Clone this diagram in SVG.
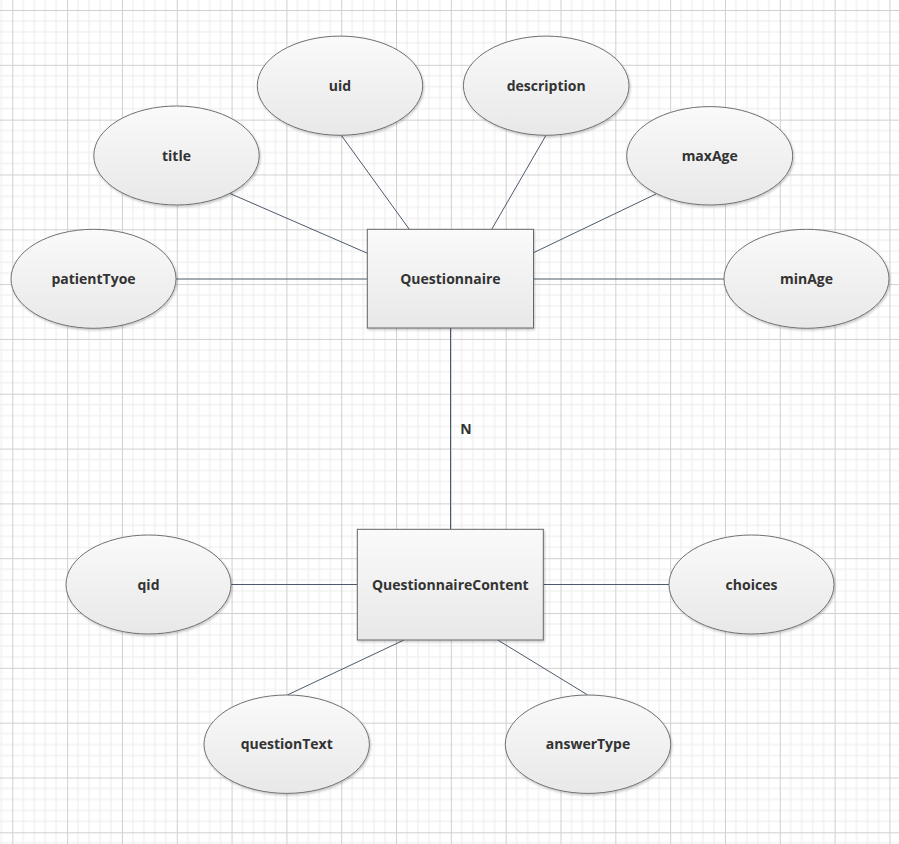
<svg xmlns="http://www.w3.org/2000/svg" width="899" height="844" viewBox="0 0 899 844">
<defs>
<pattern id="grid" patternUnits="userSpaceOnUse" x="12.3" y="10" width="54.82" height="54.82">
<g stroke="#ececec" stroke-width="1">
<line x1="10.964" y1="0" x2="10.964" y2="54.82"/>
<line x1="21.928" y1="0" x2="21.928" y2="54.82"/>
<line x1="32.892" y1="0" x2="32.892" y2="54.82"/>
<line x1="43.856" y1="0" x2="43.856" y2="54.82"/>
<line x1="0" y1="10.964" x2="54.82" y2="10.964"/>
<line x1="0" y1="21.928" x2="54.82" y2="21.928"/>
<line x1="0" y1="32.892" x2="54.82" y2="32.892"/>
<line x1="0" y1="43.856" x2="54.82" y2="43.856"/>
</g>
<g stroke="#d0d0d0" stroke-width="1">
<line x1="0.5" y1="0" x2="0.5" y2="54.82"/>
<line x1="0" y1="0.5" x2="54.82" y2="0.5"/>
</g>
</pattern>
<linearGradient id="fill" x1="0" y1="0" x2="0" y2="1">
<stop offset="0" stop-color="#fafafa"/>
<stop offset="1" stop-color="#e8e8e8"/>
</linearGradient>
<filter id="shadow" x="-10%" y="-10%" width="125%" height="130%">
<feDropShadow dx="1" dy="1.5" stdDeviation="1.2" flood-color="#000" flood-opacity="0.22"/>
</filter>
</defs>
<style>
.ent { fill: url(#fill); stroke: #666; stroke-width: 1; filter: url(#shadow); }
.attr { fill: url(#fill); stroke: #707070; stroke-width: 1; filter: url(#shadow); }
.lbl { font-family: "Open Sans", "Liberation Sans", sans-serif; font-weight: 700; font-size: 14px; fill: #333; text-anchor: middle; }
.conn { stroke: #4c5a6b; stroke-width: 1; fill: none; }
</style>
<rect width="899" height="844" fill="#ffffff"/>
<rect width="899" height="844" fill="url(#grid)"/>

<g id="connectors">
<line class="conn" x1="176" y1="279" x2="367" y2="279"/>
<line class="conn" x1="230" y1="193.5" x2="367.5" y2="253.3"/>
<line class="conn" x1="341.3" y1="135.3" x2="409.3" y2="229.3"/>
<line class="conn" x1="546" y1="135.3" x2="491.7" y2="229.3"/>
<line class="conn" x1="656" y1="194" x2="533.5" y2="252.7"/>
<line class="conn" x1="533.5" y1="279" x2="724" y2="279"/>
<line class="conn" x1="450.5" y1="328" x2="450.5" y2="529.3"/>
<line class="conn" x1="231" y1="584.5" x2="357.3" y2="584.5"/>
<line class="conn" x1="543.3" y1="584.5" x2="669" y2="584.5"/>
<line class="conn" x1="404" y1="640" x2="287.3" y2="695"/>
<line class="conn" x1="497.7" y1="640" x2="587.7" y2="695"/>
<text class="lbl" x="466" y="434">N</text>
</g>

<g id="node-questionnaire">
<rect class="ent" x="367.3" y="229.3" width="166.2" height="98.7"/>
<text class="lbl" x="450.4" y="284">Questionnaire</text>
</g>
<g id="node-questionnairecontent">
<rect class="ent" x="357.3" y="529.3" width="186" height="110.7"/>
<text class="lbl" x="450.3" y="589.5">QuestionnaireContent</text>
</g>

<g id="attr-patienttyoe">
<ellipse class="attr" cx="93.5" cy="278.8" rx="82.5" ry="49.5"/>
<text class="lbl" x="93.5" y="284">patientTyoe</text>
</g>
<g id="attr-title">
<ellipse class="attr" cx="176.5" cy="155.5" rx="82.7" ry="49.5"/>
<text class="lbl" x="176.5" y="160.5">title</text>
</g>
<g id="attr-uid">
<ellipse class="attr" cx="340" cy="85.7" rx="82.7" ry="49.6"/>
<text class="lbl" x="340" y="90.7">uid</text>
</g>
<g id="attr-description">
<ellipse class="attr" cx="546.2" cy="85.7" rx="82.8" ry="49.6"/>
<text class="lbl" x="546.2" y="90.7">description</text>
</g>
<g id="attr-maxage">
<ellipse class="attr" cx="709.7" cy="155.8" rx="83" ry="49.2"/>
<text class="lbl" x="709.7" y="160.8">maxAge</text>
</g>
<g id="attr-minage">
<ellipse class="attr" cx="806.5" cy="278.8" rx="82.5" ry="49.5"/>
<text class="lbl" x="806.5" y="284">minAge</text>
</g>
<g id="attr-qid">
<ellipse class="attr" cx="148.5" cy="584.5" rx="82.5" ry="49.5"/>
<text class="lbl" x="148.5" y="589.5">qid</text>
</g>
<g id="attr-choices">
<ellipse class="attr" cx="751.5" cy="584.5" rx="82.5" ry="49.5"/>
<text class="lbl" x="751.5" y="589.5">choices</text>
</g>
<g id="attr-questiontext">
<ellipse class="attr" cx="286.7" cy="744.2" rx="82.7" ry="49.2"/>
<text class="lbl" x="286.7" y="749.2">questionText</text>
</g>
<g id="attr-answertype">
<ellipse class="attr" cx="588" cy="744.2" rx="82.7" ry="49.2"/>
<text class="lbl" x="588" y="749.2">answerType</text>
</g>
</svg>
